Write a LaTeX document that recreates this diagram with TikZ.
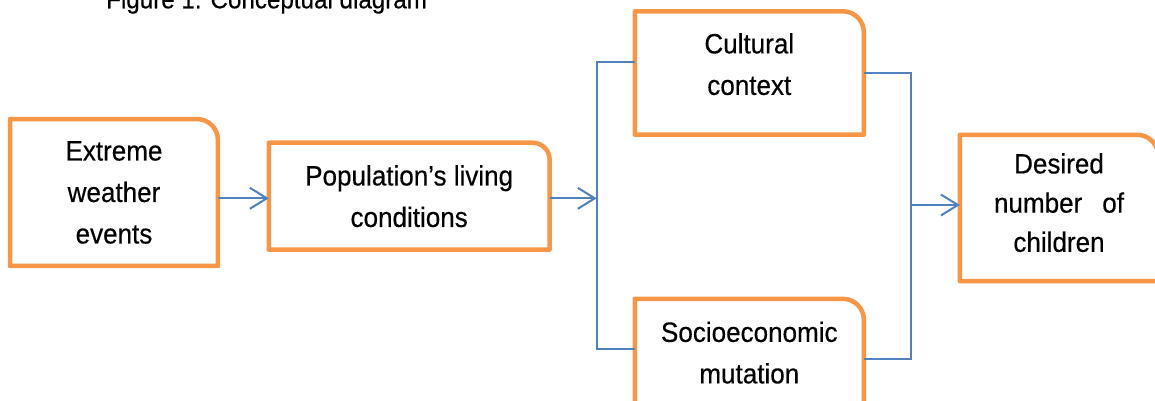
\documentclass[tikz,border=0pt]{standalone}
\usepackage{fontspec}
\setmainfont[FakeStretch=0.93, FakeBold=0.4]{Liberation Sans}
\usetikzlibrary{arrows.meta}
\definecolor{boxorange}{HTML}{F79646}
\definecolor{linkblue}{HTML}{4F81BD}
\tikzstyle{box} = [draw=none, inner sep=0pt, align=center, font=\fontsize{28}{41.5}\selectfont]
\tikzstyle{boxline} = [draw=boxorange, line width=4.5pt, line join=round]
\tikzstyle{link} = [draw=linkblue, line width=2pt]
\tikzstyle{arrow} = [link, -{Straight Barb[length=17pt,width=21pt]}]
% outline with one round corner (top right)
\newcommand{\tabbox}[2]{\draw[boxline] (#1.south west) -- (#1.north west) -- ([xshift=-#2]#1.north east) arc[start angle=90,end angle=0,radius=#2] -- (#1.south east) -- cycle;}

\begin{document}
\begin{tikzpicture}[x=1pt, y=1pt, every node/.style={box}]
        \useasboundingbox (0,0) rectangle (1155,401);
        % Node positions
        \node[anchor=base west, font=\fontsize{26}{30}\selectfont] (title) at (106,392.7) {Figure 1: Conceptual diagram};
        \node[minimum width=207.5pt, minimum height=146.5pt] (A) at (114,208.5) {Extreme\\weather\\events};
        \node[minimum width=280.5pt, minimum height=106.5pt] (B) at (409.2,204.8) {Population’s living\\conditions};
        \node[minimum width=228.7pt, minimum height=123pt, text depth=18pt] (C) at (749.3,328) {Cultural\\context};
        \node[minimum width=228.7pt, minimum height=123pt, text depth=16pt] (D) at (749.3,40.5) {Socioeconomic\\mutation};
        \node[minimum width=198pt, minimum height=146pt, text depth=11pt, font=\fontsize{28}{39.2}\selectfont] (E) at (1059,193) {Desired\\number\hspace{20pt}of\\children};
        \coordinate (lbus) at (596.7,202.7);
        \coordinate (rbus) at (911,196);

        \tabbox{A}{21pt}
        \tabbox{B}{17pt}
        \tabbox{C}{21pt}
        \tabbox{D}{21pt}
        \tabbox{E}{21pt}

        \draw[arrow] (A.east |- lbus) -- (B.west |- lbus);
        \draw[arrow] (B.east |- lbus) -- (lbus);
        \draw[link] ([yshift=10.7pt]C.west) -| (lbus) |- ([yshift=11.5pt]D.west);
        \draw[link] (C.east) -| (rbus) |- ([yshift=1.5pt]D.east);
        \draw[arrow] (rbus) -- (E.west |- rbus);

      \end{tikzpicture}
\end{document}
